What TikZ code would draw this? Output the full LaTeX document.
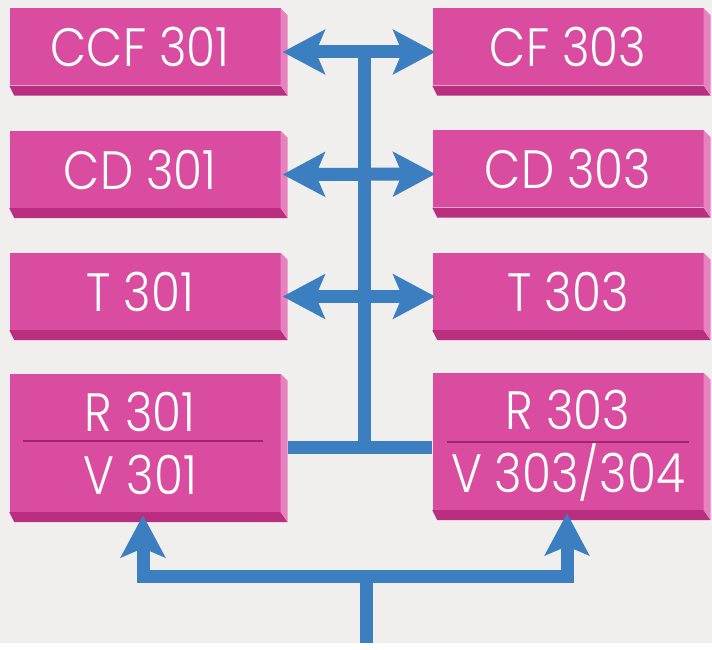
\documentclass[tikz,border=0pt]{standalone}
\usepackage{fontspec}
\setmainfont{Poppins}[UprightFont=* Light,FakeStretch=0.87]
\usepackage{xcolor}
\usepackage{tikz}
\usetikzlibrary{arrows.meta,positioning,calc}

\definecolor{paper}{RGB}{240,239,237}
\definecolor{unitfront}{RGB}{217,76,160}
\definecolor{unitbase}{RGB}{186,46,128}
\definecolor{unitedge}{RGB}{232,130,190}
\definecolor{unitrule}{RGB}{160,36,110}
\definecolor{busblue}{RGB}{60,127,192}

\tikzset{
  unit/.style={rectangle,fill=unitfront,text=white,inner sep=0pt,
    minimum width=271pt,minimum height=77pt,align=center,
    font=\fontsize{54}{63}\selectfont},
  bus/.style={line width=13pt,draw=busblue,line join=miter},
  bushead/.tip={Stealth[length=42pt,width=44pt,inset=9pt]}
}

\begin{document}
\begin{tikzpicture}[x=1pt,y=-1pt]
  \fill[paper] (0,0) rectangle (712,643);
  % left column
  \node[unit] (ccfL) at (145,47) {CCF 301\hspace*{10pt}};
  \node[unit] (cdL) at (145,169.5) {CD 301\hspace*{10pt}};
  \node[unit] (tL) at (145,291.5) {T 301\hspace*{10pt}};
  \node[unit,minimum height=138pt] (rvL) at (145,443) {R 301\hspace*{10pt}\\V 301\hspace*{10pt}};
  % right column
  \node[unit] (cfR) at (568,47) {CF 303};
  \node[unit] (cdR) at (568,169) {CD 303};
  \node[unit] (tR) at (568,291.5) {T 303};
  \node[unit,minimum height=137pt] (rvR) at (568,441.5) {R 303\\V 303\smash{/}304};
  % bevels
  \foreach \n in {ccfL,cdL,tL,rvL,cfR,cdR,tR,rvR}{
    \fill[unitbase] (\n.south west) -- (\n.south east)
      -- ([shift={(7pt,-10pt)}]\n.south east) -- ([shift={(5pt,-10pt)}]\n.south west) -- cycle;
    \fill[unitedge] (\n.north east) -- ([shift={(7pt,-7pt)}]\n.north east)
      -- ([shift={(7pt,-10pt)}]\n.south east) -- (\n.south east) -- cycle;
  }
  \draw[unitrule,line width=2pt] ([xshift=14pt,yshift=2pt]rvL.west) -- ([xshift=-18pt,yshift=2pt]rvL.east);
  \draw[unitrule,line width=2pt] ([xshift=15pt,yshift=0pt]rvR.west) -- ([xshift=-15pt,yshift=0pt]rvR.east);

  % bus
  \coordinate (top) at (364,52);
  \coordinate (hub) at (364,447);
  \coordinate (split) at (366,576);
  \coordinate (feed) at (366,643);
  \draw[bus] (top) -- (hub);
  \draw[bus] ([xshift=7pt]rvL.east |- hub) -- (rvR.west |- hub);
  \draw[bus,bushead-bushead] ([xshift=2pt,yshift=-5pt]ccfL.east) -- ([xshift=3pt,yshift=-5pt]cfR.west);
  \draw[bus,bushead-bushead] ([xshift=2pt,yshift=-5pt]cdL.east) -- ([xshift=3pt,yshift=-5pt]cdR.west);
  \draw[bus,bushead-bushead] ([xshift=2pt,yshift=-5pt]tL.east) -- ([xshift=3pt,yshift=-5pt]tR.west);
  \draw[bus] (feed) -- (split);
  \draw[bus,bushead-bushead] ([xshift=-2pt,yshift=-3pt]rvL.south) -- ([xshift=-2pt]rvL.south |- split)
    -- ([xshift=-1pt]rvR.south |- split) -- ([xshift=-1pt,yshift=-3pt]rvR.south);
\end{tikzpicture}
\end{document}
